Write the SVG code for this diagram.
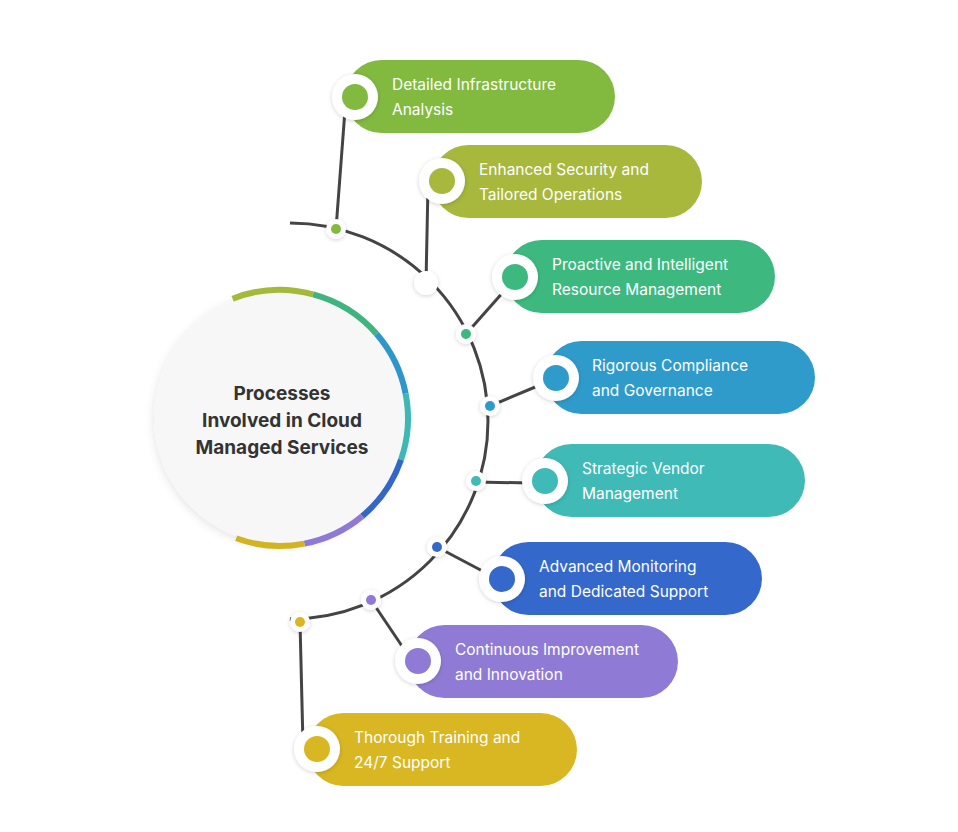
<svg xmlns="http://www.w3.org/2000/svg" width="958" height="832" viewBox="0 0 958 832">
<defs>
<filter id="sh" x="-30%" y="-30%" width="160%" height="160%"><feDropShadow dx="0" dy="1" stdDeviation="2" flood-color="#000" flood-opacity="0.18"/></filter>
<filter id="sh2" x="-20%" y="-20%" width="140%" height="140%"><feDropShadow dx="0" dy="2" stdDeviation="5" flood-color="#000" flood-opacity="0.12"/></filter>
</defs>
<style>
.t{font-family:Inter,"Liberation Sans",sans-serif;font-size:15.5px;fill:#fff}
.c{font-family:Inter,"Liberation Sans",sans-serif;font-size:19px;font-weight:bold;fill:#333;text-anchor:middle}
.ln{stroke:#444;stroke-width:3;fill:none}
.ring{fill:#fff;filter:url(#sh)}
.seg{fill:none;stroke-width:6}
</style>
<rect width="958" height="832" fill="#fff"/>
<g id="center">
<circle cx="280" cy="418" r="126" fill="#f7f7f7" filter="url(#sh2)"/>
<path class="seg" stroke="#a4b83a" d="M232.6,298.7 A128,128 0 0 1 313.1,294.4"/>
<path class="seg" stroke="#3fb47f" d="M313.1,294.4 A128,128 0 0 1 376.6,334.0"/>
<path class="seg" stroke="#2e96c8" d="M376.6,334.0 A128,128 0 0 1 405.6,393.6"/>
<path class="seg" stroke="#3db8b5" d="M405.6,393.6 A128,128 0 0 1 401.0,459.7"/>
<path class="seg" stroke="#3466c8" d="M401.0,459.7 A128,128 0 0 1 362.3,516.1"/>
<path class="seg" stroke="#8e7ad4" d="M362.3,516.1 A128,128 0 0 1 304.4,543.6"/>
<path class="seg" stroke="#d4b323" d="M304.4,543.6 A128,128 0 0 1 236.2,538.3"/>
<text class="c" x="282" y="400">Processes</text>
<text class="c" x="282" y="427">Involved in Cloud</text>
<text class="c" x="282" y="454">Managed Services</text>
</g>
<g id="connectors">
<path class="ln" d="M290,223 A198,198 0 0 1 290,619"/>
<line class="ln" x1="345" y1="110" x2="336" y2="229"/>
<line class="ln" x1="428" y1="185" x2="426" y2="283"/>
<line class="ln" x1="505" y1="290" x2="466" y2="334"/>
<line class="ln" x1="540" y1="385" x2="490" y2="406"/>
<line class="ln" x1="530" y1="483" x2="476" y2="482"/>
<line class="ln" x1="490" y1="575" x2="437" y2="547"/>
<line class="ln" x1="408" y1="655" x2="371" y2="600"/>
<line class="ln" x1="303" y1="745" x2="300" y2="622"/>
<line class="ln" x1="290" y1="619" x2="300" y2="622"/>
<circle class="ring" cx="426" cy="283" r="12"/>
<circle class="ring" cx="336" cy="229" r="10"/><circle cx="336" cy="229" r="5" fill="#82b93f"/>
<circle class="ring" cx="466" cy="334" r="10"/><circle cx="466" cy="334" r="5" fill="#3db980"/>
<circle class="ring" cx="490" cy="406" r="10"/><circle cx="490" cy="406" r="5" fill="#2f9bcb"/>
<circle class="ring" cx="476" cy="481" r="10"/><circle cx="476" cy="481" r="5" fill="#3fbab7"/>
<circle class="ring" cx="437" cy="547" r="10"/><circle cx="437" cy="547" r="5" fill="#3468cb"/>
<circle class="ring" cx="371" cy="600" r="10"/><circle cx="371" cy="600" r="5" fill="#8f7bd5"/>
<circle class="ring" cx="300" cy="622" r="10"/><circle cx="300" cy="622" r="5" fill="#d8b722"/>
</g>
<g id="n1"><rect x="345" y="60" width="270" height="73" rx="36.5" fill="#82b93f"/><circle class="ring" cx="355" cy="97" r="23"/><circle cx="355" cy="97" r="13" fill="#82b93f"/><text class="t" x="392" y="90">Detailed Infrastructure</text><text class="t" x="392" y="115">Analysis</text></g>
<g id="n2"><rect x="432" y="145" width="270" height="73" rx="36.5" fill="#a7b83d"/><circle class="ring" cx="442" cy="181" r="23"/><circle cx="442" cy="181" r="13" fill="#a7b83d"/><text class="t" x="479" y="175">Enhanced Security and</text><text class="t" x="479" y="200">Tailored Operations</text></g>
<g id="n3"><rect x="505" y="240" width="270" height="73" rx="36.5" fill="#3db980"/><circle class="ring" cx="515" cy="277" r="23"/><circle cx="515" cy="277" r="13" fill="#3db980"/><text class="t" x="552" y="270">Proactive and Intelligent</text><text class="t" x="552" y="295">Resource Management</text></g>
<g id="n4"><rect x="545" y="341" width="270" height="73" rx="36.5" fill="#2f9bcb"/><circle class="ring" cx="556" cy="378" r="23"/><circle cx="556" cy="378" r="13" fill="#2f9bcb"/><text class="t" x="592" y="371">Rigorous Compliance</text><text class="t" x="592" y="396">and Governance</text></g>
<g id="n5"><rect x="535" y="444" width="270" height="73" rx="36.5" fill="#3fbab7"/><circle class="ring" cx="545" cy="481" r="23"/><circle cx="545" cy="481" r="13" fill="#3fbab7"/><text class="t" x="582" y="474">Strategic Vendor</text><text class="t" x="582" y="499">Management</text></g>
<g id="n6"><rect x="492" y="542" width="270" height="73" rx="36.5" fill="#3468cb"/><circle class="ring" cx="502" cy="579" r="23"/><circle cx="502" cy="579" r="13" fill="#3468cb"/><text class="t" x="539" y="572">Advanced Monitoring</text><text class="t" x="539" y="597">and Dedicated Support</text></g>
<g id="n7"><rect x="408" y="625" width="270" height="73" rx="36.5" fill="#8f7bd5"/><circle class="ring" cx="418" cy="661" r="23"/><circle cx="418" cy="661" r="13" fill="#8f7bd5"/><text class="t" x="455" y="655">Continuous Improvement</text><text class="t" x="455" y="680">and Innovation</text></g>
<g id="n8"><rect x="307" y="713" width="270" height="73" rx="36.5" fill="#d8b722"/><circle class="ring" cx="317" cy="749" r="23"/><circle cx="317" cy="749" r="13" fill="#d8b722"/><text class="t" x="354" y="743">Thorough Training and</text><text class="t" x="354" y="768">24/7 Support</text></g>
</svg>
